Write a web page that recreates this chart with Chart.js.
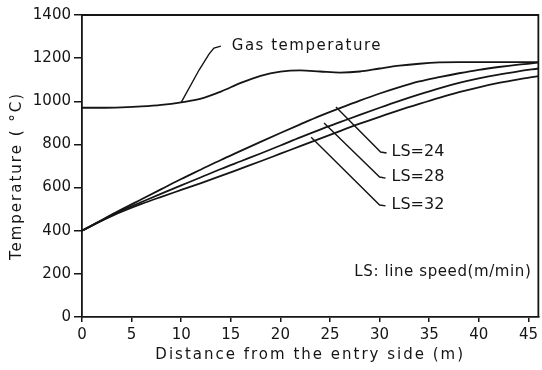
<!DOCTYPE html>
<html>
<head>
<meta charset="utf-8">
<script src="https://cdn.jsdelivr.net/npm/chart.js@4.4.1/dist/chart.umd.min.js"></script>
<style>
    html, body { margin: 0; padding: 0; background: #fff; }
    #box { width: 542px; height: 370px; }
</style>
</head>
<body>
<div id="box"><canvas id="temp-chart"></canvas></div>
<script>
// distance from entry side (m)
var distance = [0, 2, 4, 6, 8, 10, 12, 14, 16, 18, 20, 22, 24, 26, 28, 30, 32, 34, 36, 38, 40, 42, 44, 46];

var gasTemp = [970, 970, 972, 976, 983, 995, 1012, 1045, 1085, 1118, 1137, 1143, 1138, 1133, 1138, 1152, 1165, 1174, 1180, 1182, 1182, 1182, 1182, 1182];
var ls24 = [400, 450, 499, 546, 593, 640, 684, 728, 770, 812, 853, 893, 932, 968, 1003, 1036, 1066, 1092, 1112, 1130, 1146, 1159, 1170, 1179];
var ls28 = [400, 448, 494, 533, 572, 610, 648, 686, 722, 758, 795, 833, 869, 903, 937, 970, 1002, 1032, 1060, 1085, 1106, 1124, 1139, 1152];
var ls32 = [400, 446, 488, 524, 557, 589, 621, 654, 688, 722, 757, 792, 827, 862, 896, 928, 959, 988, 1016, 1042, 1065, 1085, 1102, 1117];

var xTicks = [0, 5, 10, 15, 20, 25, 30, 35, 40, 45];
var yTicks = [0, 200, 400, 600, 800, 1000, 1200, 1400];

// callouts, in data units
var notes = [
    { text: 'Gas temperature', path: [[10, 995], [11.8, 1145], [12.8, 1219], [13.3, 1247], [14, 1256]], at: [15.1, 1256], size: 15, spacing: 1.5 },
    { text: 'LS=24', path: [[25.6, 974], [30.1, 765], [30.7, 760]], at: [31.2, 765], size: 16, spacing: 0 },
    { text: 'LS=28', path: [[24.4, 899], [30.0, 649], [30.6, 644]], at: [31.2, 649], size: 16, spacing: 0 },
    { text: 'LS=32', path: [[23.1, 833], [30.0, 519], [30.6, 515]], at: [31.2, 519], size: 16, spacing: 0 }
];

var ink = '#151515';
var font = 'DejaVu Sans';

function series(vals) {
    return distance.map(function (d, i) { return { x: d, y: vals[i] }; });
}

function line(label, vals) {
    return {
        label: label,
        data: series(vals),
        borderColor: ink,
        borderWidth: 1.8,
        pointRadius: 0,
        fill: false,
        cubicInterpolationMode: 'monotone'
    };
}

var decor = {
    id: 'decor',
    afterDraw: function (chart) {
        var c = chart.ctx, a = chart.chartArea;
        var sx = chart.scales.x, sy = chart.scales.y;
        c.save();
        // frame top + right
        c.strokeStyle = ink;
        c.lineWidth = 1.8;
        c.beginPath();
        c.moveTo(a.left, a.top);
        c.lineTo(a.right, a.top);
        c.lineTo(a.right, a.bottom);
        c.stroke();

        // callouts
        c.lineWidth = 1.4;
        c.fillStyle = ink;
        c.textBaseline = 'middle';
        c.textAlign = 'left';
        notes.forEach(function (n) {
            c.beginPath();
            n.path.forEach(function (p, i) {
                var px = sx.getPixelForValue(p[0]), py = sy.getPixelForValue(p[1]);
                if (i === 0) c.moveTo(px, py); else c.lineTo(px, py);
            });
            c.stroke();
            c.font = n.size + 'px "' + font + '"';
            c.letterSpacing = n.spacing + 'px';
            c.fillText(n.text, sx.getPixelForValue(n.at[0]), sy.getPixelForValue(n.at[1]));
        });

        c.font = '15px "' + font + '"';
        c.letterSpacing = '0.6px';
        c.textAlign = 'right';
        c.fillText('LS: line speed(m/min)', sx.getPixelForValue(45.3), sy.getPixelForValue(209));

        // axis titles
        c.font = '15px "' + font + '"';
        c.letterSpacing = '2px';
        c.textAlign = 'center';
        c.fillText('Distance from the entry side (m)', (a.left + a.right) / 2, 355);
        c.translate(17, (a.top + a.bottom) / 2 + 10);
        c.rotate(-Math.PI / 2);
        c.fillText('Temperature ( °C)', 0, 0);
        c.restore();
    }
};

var ctx = document.getElementById('temp-chart');

var tempChart = new Chart(ctx, {
    type: 'line',
    data: {
        datasets: [
            line('Gas temperature', gasTemp),
            line('LS=24', ls24),
            line('LS=28', ls28),
            line('LS=32', ls32)
        ]
    },
    options: {
        responsive: true,
        maintainAspectRatio: false,
        animation: false,
        layout: { padding: { top: 15, right: 1, left: 0, bottom: 0 } },
        plugins: {
            legend: { display: false },
            tooltip: { enabled: false }
        },
        scales: {
            x: {
                type: 'linear',
                min: 0,
                max: 46,
                afterBuildTicks: function (s) { s.ticks = xTicks.map(function (v) { return { value: v }; }); },
                afterFit: function (s) { s.height = 53; },
                ticks: { color: ink, font: { family: font, size: 15 }, padding: 4, maxRotation: 0,
                         callback: function (v) { return String(v); } },
                grid: { drawOnChartArea: false, drawTicks: true, tickLength: 5, color: ink, lineWidth: 1.5 },
                border: { display: true, color: ink, width: 1.8 }
            },
            y: {
                min: 0,
                max: 1400,
                afterBuildTicks: function (s) { s.ticks = yTicks.map(function (v) { return { value: v }; }); },
                afterFit: function (s) { s.width = 82; },
                ticks: { color: ink, font: { family: font, size: 15 }, padding: 3,
                         callback: function (v) { return String(v); } },
                grid: { drawOnChartArea: false, drawTicks: true, tickLength: 8, color: ink, lineWidth: 1.5 },
                border: { display: true, color: ink, width: 1.8 }
            }
        }
    },
    plugins: [decor]
});
</script>
</body>
</html>
